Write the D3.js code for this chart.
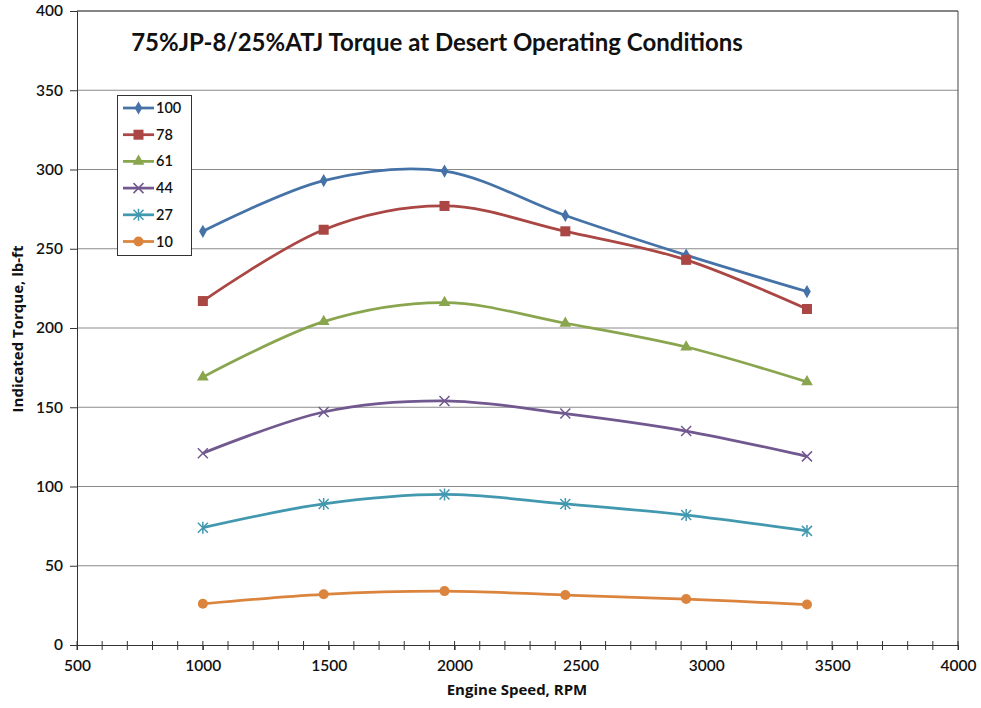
<!DOCTYPE html>
<html><head><meta charset="utf-8">
<script src="https://cdn.jsdelivr.net/npm/d3@7"></script>
<style>body{margin:0;background:#fff}svg{display:block}text{font-family:Lato,"Open Sans",sans-serif}</style>
</head><body>
<svg id="c" width="981" height="708"></svg>
<script>
const speeds = [1000, 1480, 1960, 2440, 2920, 3400];
const loads = ["100", "78", "61", "44", "27", "10"];
const s100 = [261, 293, 299, 271, 246, 223];
const s78 = [217, 262, 277, 261, 243, 212];
const s61 = [169, 204, 216, 203, 188, 166];
const s44 = [121, 147, 154, 146, 135, 119];
const s27 = [74, 89, 95, 89, 82, 72];
const s10 = [26, 32, 34, 31.5, 29, 25.5];
const xTicks = [500, 1000, 1500, 2000, 2500, 3000, 3500, 4000];
const yTicks = [0, 50, 100, 150, 200, 250, 300, 350, 400];
const colors = ["#4572A7", "#AA4643", "#89A54E", "#71588F", "#4198AF", "#DB843D"];
const symbols = ["diamond", "square", "triangle", "x", "star", "circle"];
const series = [s100, s78, s61, s44, s27, s10];

const svg = d3.select("#c");
const L = 77, R = 958, T = 11, B = 645;
const x = d3.scaleLinear().domain([500, 4000]).range([L, R]);
const y = d3.scaleLinear().domain([0, 400]).range([B, T]);

// gridlines
svg.append("g").selectAll("line").data(yTicks.slice(1)).join("line")
  .attr("x1", L).attr("x2", R).attr("y1", d => y(d)).attr("y2", d => y(d))
  .attr("stroke", "#8a8a8a").attr("stroke-width", 1);
svg.append("line").attr("x1", L).attr("x2", R).attr("y1", y(400)).attr("y2", y(400)).attr("stroke", "#444");
svg.append("line").attr("x1", R).attr("x2", R).attr("y1", T).attr("y2", B).attr("stroke", "#444");

// y axis
const yAxis = d3.axisLeft(y).tickValues(yTicks).tickSize(7).tickPadding(7);
const gy = svg.append("g").attr("transform", `translate(${L},0)`).call(yAxis);
gy.select(".domain").attr("stroke", "#333");
gy.selectAll(".tick line").attr("stroke", "#333");
gy.selectAll("text").attr("font-size", 15.5).attr("fill", "#111").attr("font-weight", 600);

// x axis minor ticks (crossing)
const minor = d3.range(500, 4001, 100);
svg.append("g").selectAll("line").data(minor).join("line")
  .attr("x1", d => x(d)).attr("x2", d => x(d)).attr("y1", B - 4).attr("y2", B + 5)
  .attr("stroke", "#333");
const xAxis = d3.axisBottom(x).tickValues(xTicks).tickSize(5).tickPadding(10).tickFormat(d3.format("d"));
const gx = svg.append("g").attr("transform", `translate(0,${B})`).call(xAxis);
gx.select(".domain").attr("stroke", "#333");
gx.selectAll(".tick line").attr("stroke", "#333");
gx.selectAll("text").attr("font-size", 15.5).attr("fill", "#111").attr("font-weight", 600);

// axis titles
svg.append("text").attr("x", 517).attr("y", 695).attr("text-anchor", "middle")
  .style("font-family", "'Open Sans',sans-serif")
  .attr("font-size", 15).attr("font-weight", "bold").attr("fill", "#111").text("Engine Speed, RPM");
svg.append("text").attr("transform", `translate(23,329) rotate(-90)`).attr("text-anchor", "middle")
  .style("font-family", "'Open Sans',sans-serif")
  .attr("font-size", 15).attr("font-weight", "bold").attr("fill", "#111").text("Indicated Torque, lb-ft");

// title
svg.append("text").attr("x", 437).attr("y", 51).attr("text-anchor", "middle")
  .attr("font-size", 24).attr("font-weight", "bold").attr("fill", "#111")
  .text("75%JP-8/25%ATJ Torque at Desert Operating Conditions");

function marker(g, sym, color, cx, cy) {
  if (sym === "diamond") {
    g.append("path").attr("d", d3.symbol(d3.symbolDiamond, 50)()).attr("transform", `translate(${cx},${cy})`).attr("fill", color);
  } else if (sym === "square") {
    g.append("rect").attr("x", cx - 5).attr("y", cy - 5).attr("width", 10).attr("height", 10).attr("fill", color);
  } else if (sym === "triangle") {
    g.append("path").attr("d", d3.symbol(d3.symbolTriangle, 60)()).attr("transform", `translate(${cx},${cy})`).attr("fill", color);
  } else if (sym === "x") {
    g.append("path").attr("d", `M${cx-5},${cy-5}L${cx+5},${cy+5}M${cx-5},${cy+5}L${cx+5},${cy-5}`).attr("stroke", color).attr("stroke-width", 1.5);
  } else if (sym === "star") {
    g.append("path").attr("d", `M${cx-5},${cy-5}L${cx+5},${cy+5}M${cx-5},${cy+5}L${cx+5},${cy-5}M${cx},${cy-6}L${cx},${cy+6}`).attr("stroke", color).attr("stroke-width", 1.5);
  } else {
    g.append("circle").attr("cx", cx).attr("cy", cy).attr("r", 5).attr("fill", color);
  }
}

const line = d3.line().x((d, i) => x(speeds[i])).y(d => y(d)).curve(d3.curveCardinal.tension(0));
series.forEach((s, k) => {
  const g = svg.append("g");
  g.append("path").attr("d", line(s)).attr("fill", "none").attr("stroke", colors[k]).attr("stroke-width", 2.75);
  s.forEach((v, i) => marker(g, symbols[k], colors[k], x(speeds[i]), y(v)));
});

// legend
const lg = svg.append("g");
lg.append("rect").attr("x", 117.5).attr("y", 95.5).attr("width", 74).attr("height", 160)
  .attr("fill", "#fff").attr("stroke", "#333").attr("stroke-width", 1);
loads.forEach((name, k) => {
  const yy = 108 + k * 26.7;
  lg.append("line").attr("x1", 123).attr("x2", 154).attr("y1", yy).attr("y2", yy).attr("stroke", colors[k]).attr("stroke-width", 2.75);
  marker(lg, symbols[k], colors[k], 138.5, yy);
  lg.append("text").attr("x", 156).attr("y", yy + 5).attr("font-size", 14.5).attr("font-weight", 600).attr("fill", "#111").text(name);
});
</script>
</body></html>
